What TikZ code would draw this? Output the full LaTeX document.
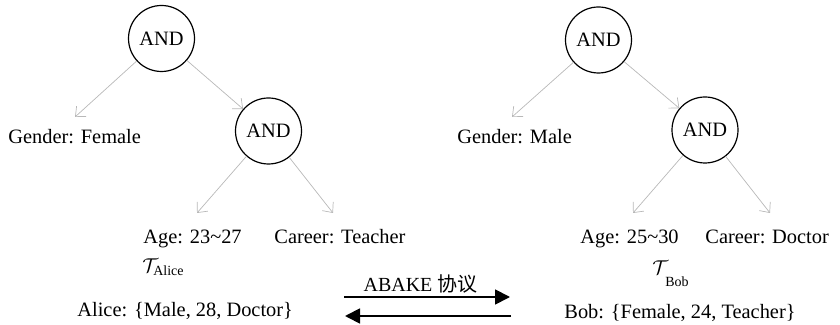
\documentclass[tikz,border=0pt]{standalone}
\usepackage{fontspec}
\setmainfont{Liberation Serif}
\newfontfamily\cjk{Noto Sans CJK SC}
\usetikzlibrary{arrows.meta}
\begin{document}
\begin{tikzpicture}[x=0.5pt,y=-0.5pt,
  every node/.style={font=\fontsize{10.2}{12}\selectfont},
  andnode/.style={circle,draw=black,line width=0.6pt,minimum size=33pt,inner sep=0pt},
  lbl/.style={anchor=base west,inner sep=0pt},
  edgearr/.style={draw=black!28,line width=0.35pt,-{Straight Barb[length=4pt,width=7pt]}},
  bigarr/.style={draw=black,line width=0.9pt,-{Triangle[length=7.5pt,width=7.5pt]}}]
\useasboundingbox (0,0) rectangle (840,325);
% left tree
\node[andnode] (a1) at (161.5,38.5) {AND};
\node[andnode] (a2) at (268.5,131) {AND};
\node[lbl] (gf) at (8,144) {Gender: Female};
\node[lbl] (ag1) at (143,244) {Age: 23\textasciitilde27};
\node[lbl] (ct) at (274,244) {Career: Teacher};
\node[lbl] (ta) at (142,273) {$\mathcal{T}_{\mbox{\fontsize{7}{8}\selectfont Alice}}$};
\node[lbl] (al) at (77,317) {Alice: \{Male, 28, Doctor\}};
\coordinate (t1) at (75,117);
\coordinate (t2) at (197,213);
\coordinate (t3) at (333,213);
\draw[edgearr] (a1) -- (t1);
\draw[edgearr] (a1) -- (a2);
\draw[edgearr] (a2) -- (t2);
\draw[edgearr] (a2) -- (t3);
% right tree
\node[andnode] (b1) at (598.5,40) {AND};
\node[andnode] (b2) at (705,130) {AND};
\node[lbl] (gm) at (457,144) {Gender: Male};
\node[lbl] (ag2) at (580,244) {Age: 25\textasciitilde30};
\node[lbl] (cd) at (705,244) {Career: Doctor};
\node[lbl] (tb) at (652,275) {$\mathcal{T}$\kern-1.5pt\raisebox{-6pt}{\fontsize{7}{8}\selectfont Bob}};
\node[lbl] (bo) at (564,319) {Bob: \{Female, 24, Teacher\}};
\coordinate (u1) at (512,117);
\coordinate (u2) at (633,213);
\coordinate (u3) at (770,213);
\draw[edgearr] (b1) -- (u1);
\draw[edgearr] (b1) -- (b2);
\draw[edgearr] (b2) -- (u2);
\draw[edgearr] (b2) -- (u3);
% protocol arrows
\node[anchor=base,inner sep=0pt,font=\fontsize{10}{12}\selectfont] (ab) at (420.5,292) {ABAKE {\cjk 协议}};
\coordinate (p1) at (344,297);
\coordinate (p2) at (510,297);
\coordinate (q1) at (511,316);
\coordinate (q2) at (345,316);
\draw[bigarr] (p1) -- (p2);
\draw[bigarr] (q1) -- (q2);
\end{tikzpicture}
\end{document}
